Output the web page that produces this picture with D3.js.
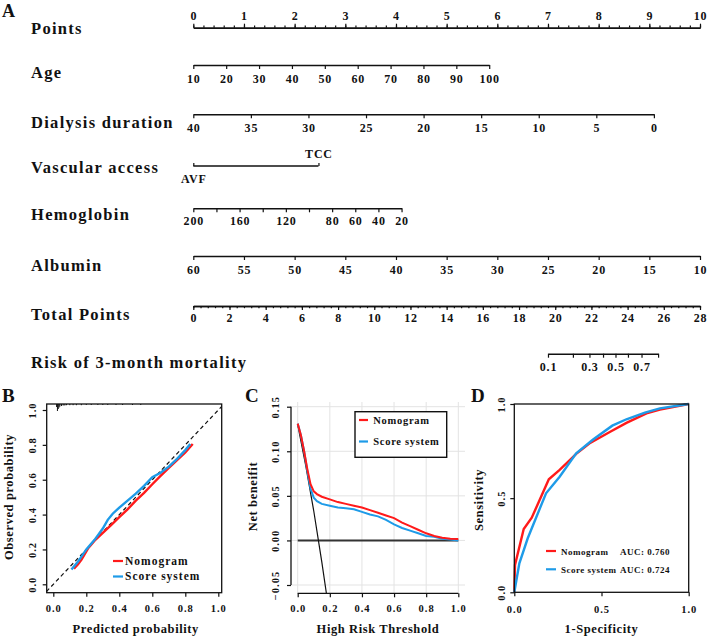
<!DOCTYPE html>
<html><head><meta charset="utf-8">
<script src="https://cdn.jsdelivr.net/npm/d3@7"></script>
<style>body{margin:0;background:#fff}svg{display:block}</style>
</head><body>
<script>
// ---------------- DATA ----------------
const rowNames = ["Points","Age","Dialysis duration","Vascular access","Hemoglobin","Albumin","Total Points","Risk of 3-month mortality"];
const pointsLabels = [0,1,2,3,4,5,6,7,8,9,10];
const ageValues = [10,20,30,40,50,60,70,80,90,100];
const agePoints = [0, 5.84];
const dialysisValues = [40,35,30,25,20,15,10,5,0];
const dialysisPoints = [0, 9.09];
const accessLevels = ["AVF","TCC"];
const accessPoints = [0, 2.47];
const hbTicks = [200,180,160,140,120,100,80,60,40,20];
const hbLabels = [200,160,120,80,60,40,20];
const hbPoints = [0, 4.11];
const albuminValues = [60,55,50,45,40,35,30,25,20,15,10];
const albuminPoints = [0, 10];
const totalLabels = [0,2,4,6,8,10,12,14,16,18,20,22,24,26,28];
const riskTicks = [0.1,0.2,0.3,0.4,0.5,0.6,0.7,0.8];
const riskLabels = [0.1,0.3,0.5,0.7];
const riskHalfPoints = 23.33, riskSlope = 0.589;

// Calibration (B)
const calNomoPred = [0.125,0.15,0.17,0.21,0.25,0.3,0.35,0.4,0.45,0.5,0.55,0.6,0.65,0.7,0.75,0.8,0.845];
const calNomoObs  = [0.09,0.115,0.14,0.205,0.25,0.295,0.34,0.385,0.43,0.48,0.525,0.574,0.622,0.668,0.712,0.757,0.805];
const calScorePred = [0.11,0.15,0.2,0.25,0.3,0.33,0.36,0.4,0.45,0.5,0.55,0.6,0.65,0.7,0.75,0.8,0.83];
const calScoreObs  = [0.085,0.13,0.2,0.255,0.32,0.37,0.405,0.44,0.48,0.52,0.565,0.615,0.64,0.675,0.72,0.77,0.805];
const rugPred  = [0.02,0.025,0.03,0.035,0.04,0.05,0.06,0.07,0.08,0.1,0.12,0.14,0.17,0.2,0.23,0.27,0.3,0.33,0.38,0.42,0.48,0.53];
const rugCount = [3,7,5,3.5,2.5,2,1.5,1.5,1.2,1.2,1.2,1.2,1.2,1,1,1,1,1,1,1,1,1];

// Decision curve (C)
const dcaThreshold = [0,0.02,0.04,0.06,0.08,0.1,0.12,0.15,0.2,0.25,0.3,0.35,0.4,0.45,0.5,0.55,0.6,0.65,0.7,0.75,0.8,0.85,0.9,0.95,1.0];
const dcaNomo  = [0.131,0.118,0.1,0.08,0.063,0.055,0.052,0.049,0.046,0.043,0.041,0.039,0.037,0.034,0.031,0.028,0.025,0.020,0.016,0.012,0.008,0.005,0.003,0.002,0.0015];
const dcaScore = [0.131,0.118,0.1,0.078,0.058,0.048,0.044,0.041,0.039,0.037,0.036,0.035,0.032,0.029,0.027,0.023,0.018,0.014,0.011,0.008,0.005,0.004,0.002,0.001,0.0];
const dcaAllThreshold = [0,0.05,0.1,0.15,0.18];
const dcaAll = [0.13,0.084,0.033,-0.024,-0.061];

// ROC (D)
const rocNomoFpr = [0,0.004,0.054,0.1,0.198,0.26,0.355,0.43,0.55,0.643,0.758,0.835,1];
const rocNomoTpr = [0,0.145,0.336,0.396,0.6,0.65,0.735,0.79,0.853,0.9,0.95,0.97,1];
const rocScoreFpr = [0,0.029,0.077,0.182,0.26,0.355,0.45,0.562,0.643,0.749,0.835,1];
const rocScoreTpr = [0,0.154,0.287,0.526,0.614,0.738,0.81,0.885,0.919,0.954,0.977,1];
const seriesNames = ["Nomogram","Score system"];
const aucValues = ["0.760","0.724"];

// ---------------- DRAW ----------------
const FONT = "'Liberation Serif','Times New Roman',serif";
const RED = "#ff1a1a", BLUE = "#1e9be8", INK = "#111";
const svg = d3.select("body").append("svg").attr("width",708).attr("height",636)
  .style("font-family",FONT);

function txt(g, x, y, s, size, opts={}) {
  const t = g.append("text").attr("x",x).attr("y",y).text(s)
    .attr("font-size",size).attr("font-weight","bold").attr("fill",INK)
    .attr("font-family",FONT);
  if (opts.anchor) t.attr("text-anchor",opts.anchor);
  if (opts.ls != null) t.style("letter-spacing",opts.ls+"px");
  if (opts.rotate) t.attr("transform",`rotate(-90,${x},${y})`);
  return t;
}

// panel letters
txt(svg,2,17,"A",18);
txt(svg,2,402,"B",19);
txt(svg,245,402,"C",19);
txt(svg,471,402,"D",19);

// ----- Nomogram -----
const ptsX = d3.scaleLinear([0,10],[193.3,700]);
const totX = d3.scaleLinear([0,28],[193.3,700]);
const rowLabelY = [33.5,78,127.5,172.5,220,270.5,319.5,368];
rowNames.forEach((n,i)=> txt(svg,31,rowLabelY[i],n,16.5,{ls:1.3}));

function styleAxis(g, labelY) {
  g.selectAll("path.domain").attr("stroke",INK).attr("stroke-width",1.4);
  g.selectAll(".tick line").attr("stroke",INK).attr("stroke-width",1.2);
  g.selectAll(".tick text").attr("y",labelY).attr("dy",0)
    .attr("font-family",FONT).attr("font-size",12).attr("font-weight","bold")
    .attr("fill",INK).style("letter-spacing","0.8px");
}
function nomoAxis(scale, y, o) {
  const g = svg.append("g").attr("transform",`translate(0,${y})`);
  const mk = o.up ? d3.axisTop : d3.axisBottom;
  if (o.minor) {
    g.append("g").call(mk(scale).tickValues(o.minor).tickSize(2.2).tickSizeOuter(0).tickFormat(""));
  }
  g.append("g").call(mk(scale).tickValues(o.ticks).tickSize(o.tick||4).tickSizeOuter(0).tickFormat(o.fmt));
  styleAxis(g, o.labelY);
  return g;
}
// Points
nomoAxis(ptsX, 27.7, {up:true, ticks:pointsLabels, minor:d3.range(0,10.001,0.2), fmt:d=>d, labelY:-7.7});
// Age
const ageX = d3.scaleLinear([ageValues[0],ageValues[ageValues.length-1]], agePoints.map(ptsX));
nomoAxis(ageX, 65, {ticks:ageValues, fmt:d=>d, labelY:18});
// Dialysis
const dialX = d3.scaleLinear([dialysisValues[0],dialysisValues[dialysisValues.length-1]], dialysisPoints.map(ptsX));
nomoAxis(dialX, 114.3, {ticks:dialysisValues, fmt:d=>d, labelY:17.5});
// Vascular access
const accX = d3.scaleOrdinal(accessLevels, accessPoints.map(ptsX));
{
  const g = nomoAxis(accX, 166, {up:true, ticks:accessLevels, fmt:d=>d, tick:3, labelY:-8});
  g.selectAll(".tick text").filter(d=>d==="AVF").attr("y",16.5);
  g.select("path.domain").attr("d",`M${accX("AVF")},0H${accX("TCC")}`);
}
// Hemoglobin
const hbX = d3.scaleLinear([hbTicks[0],hbTicks[hbTicks.length-1]], hbPoints.map(ptsX));
nomoAxis(hbX, 208.3, {ticks:hbTicks, fmt:d=>hbLabels.includes(d)?d:"", labelY:17});
// Albumin
const albX = d3.scaleLinear([albuminValues[0],albuminValues[albuminValues.length-1]], albuminPoints.map(ptsX));
nomoAxis(albX, 256, {ticks:albuminValues, fmt:d=>d, labelY:17.5});
// Total points
nomoAxis(totX, 306, {ticks:totalLabels, minor:d3.range(0,28.001,0.4), fmt:d=>d, labelY:16});
// Risk
const logit = p => Math.log(p/(1-p));
const riskTP = p => riskHalfPoints + logit(p)/riskSlope;
const riskX = d3.scaleLinear([logit(riskTicks[0]), logit(riskTicks[riskTicks.length-1])],
  [totX(riskTP(riskTicks[0])), totX(riskTP(riskTicks[riskTicks.length-1]))]);
nomoAxis(riskX, 353.7, {ticks:riskTicks.map(logit), tick:4,
  fmt:d=>{ const p = 1/(1+Math.exp(-d)); const r = Math.round(p*10)/10; return riskLabels.includes(r)? d3.format(".1f")(r):""; },
  labelY:17});

// ----- common axis styling for panels -----
function panelAxisStyle(g) {
  g.select("path.domain").remove();
  g.selectAll(".tick line").attr("stroke",INK).attr("stroke-width",1.2);
  g.selectAll(".tick text").attr("font-family",FONT).attr("font-size",10.5)
    .attr("font-weight","bold").attr("fill",INK).style("letter-spacing","1px");
}
function xAxisAt(scale, y, ticks, fmt, labelY) {
  const g = svg.append("g").attr("transform",`translate(0,${y})`)
    .call(d3.axisBottom(scale).tickValues(ticks).tickSize(4).tickFormat(fmt));
  panelAxisStyle(g);
  g.selectAll(".tick text").attr("y",labelY).attr("dy",0);
  return g;
}
function yAxisAt(scale, x, ticks, fmt, labelX) {
  const g = svg.append("g").attr("transform",`translate(${x},0)`)
    .call(d3.axisLeft(scale).tickValues(ticks).tickSize(4).tickFormat(fmt));
  panelAxisStyle(g);
  g.selectAll(".tick text").attr("x",0).attr("y",0).attr("dy",0)
    .attr("text-anchor","middle").attr("transform",`translate(${labelX},0) rotate(-90)`);
  return g;
}
function legendItem(g, x1, x2, y, color, label, size, tx, ls) {
  g.append("line").attr("x1",x1).attr("x2",x2).attr("y1",y).attr("y2",y)
    .attr("stroke",color).attr("stroke-width",2.2);
  return txt(g, tx, y+3.8, label, size, {ls});
}

// ----- B: calibration -----
{
  const bx = d3.scaleLinear([0,1],[53.3,218.3]);
  const by = d3.scaleLinear([0,1],[584.3,410]);
  const box = {x:46.7, y:404, w:175, h:188.7};
  svg.append("clipPath").attr("id","clipB").append("rect")
    .attr("x",box.x).attr("y",box.y).attr("width",box.w).attr("height",box.h);
  const g = svg.append("g").attr("clip-path","url(#clipB)");
  g.append("line").attr("x1",bx(-0.1)).attr("y1",by(-0.1)).attr("x2",bx(1.1)).attr("y2",by(1.1))
    .attr("stroke",INK).attr("stroke-width",1.2).attr("stroke-dasharray","4,3");
  const rugH = d3.scaleLinear([0,8],[0,8]);
  g.selectAll("line.rug").data(rugPred).join("line").attr("class","rug")
    .attr("x1",d=>bx(d)).attr("x2",d=>bx(d)).attr("y1",box.y)
    .attr("y2",(d,i)=>box.y+rugH(rugCount[i])).attr("stroke",INK).attr("stroke-width",1);
  const line = d3.line().x(d=>bx(d[0])).y(d=>by(d[1]));
  g.append("path").attr("d",line(d3.zip(calNomoPred,calNomoObs))).attr("fill","none")
    .attr("stroke",RED).attr("stroke-width",2.4);
  g.append("path").attr("d",line(d3.zip(calScorePred,calScoreObs))).attr("fill","none")
    .attr("stroke",BLUE).attr("stroke-width",2.4);
  svg.append("rect").attr("x",box.x).attr("y",box.y).attr("width",box.w).attr("height",box.h)
    .attr("fill","none").attr("stroke",INK).attr("stroke-width",1.3);
  const t = [0,0.2,0.4,0.6,0.8,1.0];
  xAxisAt(bx, box.y+box.h, t, d3.format(".1f"), 19.5);
  yAxisAt(by, box.x, t, d3.format(".1f"), -10.5);
  txt(svg,(bx(0)+bx(1))/2,632.5,"Predicted probability",12.5,{anchor:"middle",ls:0.6});
  txt(svg,12.5,497,"Observed probability",12.5,{anchor:"middle",ls:0.6,rotate:true});
  legendItem(svg,113,123,561,RED,seriesNames[0],11.5,125,1);
  legendItem(svg,113,123,576.5,BLUE,seriesNames[1],11.5,125,1);
}

// ----- C: decision curve -----
{
  const cx = d3.scaleLinear([0,1],[297.7,458.3]);
  const cy = d3.scaleLinear([-0.05,0.15],[585,406.7]);
  const xt = [0,0.2,0.4,0.6,0.8,1.0], yt = [-0.05,0,0.05,0.10,0.15];
  const region = {x0:291, x1:465, y0:402, y1:593.3};
  const grid = svg.append("g");
  grid.selectAll("line.v").data(xt).join("line").attr("x1",d=>cx(d)).attr("x2",d=>cx(d))
    .attr("y1",region.y0).attr("y2",region.y1).attr("stroke","#e3e3e3").attr("stroke-width",1);
  grid.selectAll("line.h").data(yt).join("line").attr("y1",d=>cy(d)).attr("y2",d=>cy(d))
    .attr("x1",region.x0).attr("x2",region.x1).attr("stroke","#e3e3e3").attr("stroke-width",1);
  svg.append("clipPath").attr("id","clipC").append("rect")
    .attr("x",region.x0).attr("y",region.y0).attr("width",region.x1-region.x0).attr("height",region.y1-region.y0);
  const g = svg.append("g").attr("clip-path","url(#clipC)");
  g.append("line").attr("x1",cx(0)).attr("x2",cx(1)).attr("y1",cy(0)).attr("y2",cy(0))
    .attr("stroke","#333").attr("stroke-width",2);
  const line = d3.line().x(d=>cx(d[0])).y(d=>cy(d[1]));
  g.append("path").attr("d",line(d3.zip(dcaAllThreshold,dcaAll))).attr("fill","none")
    .attr("stroke",INK).attr("stroke-width",1.2);
  g.append("path").attr("d",line(d3.zip(dcaThreshold,dcaScore))).attr("fill","none")
    .attr("stroke",BLUE).attr("stroke-width",2);
  g.append("path").attr("d",line(d3.zip(dcaThreshold,dcaNomo))).attr("fill","none")
    .attr("stroke",RED).attr("stroke-width",2);
  // axis lines (span first to last tick)
  svg.append("line").attr("x1",cx(0)).attr("x2",cx(1)).attr("y1",region.y1).attr("y2",region.y1)
    .attr("stroke",INK).attr("stroke-width",1.3);
  svg.append("line").attr("x1",region.x0).attr("x2",region.x0).attr("y1",cy(0.15)).attr("y2",cy(-0.05))
    .attr("stroke",INK).attr("stroke-width",1.3);
  xAxisAt(cx, region.y1, xt, d3.format(".1f"), 19);
  yAxisAt(cy, region.x0, yt, d3.format(".2f"), -12);
  txt(svg,(cx(0)+cx(1))/2,633,"High Risk Threshold",12.5,{anchor:"middle",ls:0.6});
  txt(svg,257,496.5,"Net beneifit",12.5,{anchor:"middle",ls:0.6,rotate:true});
  const lg = svg.append("g");
  lg.append("rect").attr("x",355).attr("y",411.7).attr("width",91.7).attr("height",45.6)
    .attr("fill","#fff").attr("stroke",INK).attr("stroke-width",1.4);
  legendItem(lg,359,368,420,RED,seriesNames[0],10.5,373.3,0.7);
  legendItem(lg,359,368,441.5,BLUE,seriesNames[1],10.5,373.3,0.7);
}

// ----- D: ROC -----
{
  const dx = d3.scaleLinear([0,1],[514.3,688.7]);
  const dy = d3.scaleLinear([0,1],[592.3,404]);
  const line = d3.line().x(d=>dx(d[0])).y(d=>dy(d[1]));
  svg.append("path").attr("d",line(d3.zip(rocNomoFpr,rocNomoTpr))).attr("fill","none")
    .attr("stroke",RED).attr("stroke-width",2.4);
  svg.append("path").attr("d",line(d3.zip(rocScoreFpr,rocScoreTpr))).attr("fill","none")
    .attr("stroke",BLUE).attr("stroke-width",2.4);
  svg.append("rect").attr("x",dx(0)).attr("y",dy(1)).attr("width",dx(1)-dx(0)).attr("height",dy(0)-dy(1))
    .attr("fill","none").attr("stroke",INK).attr("stroke-width",1.3);
  const t = [0,0.5,1];
  xAxisAt(dx, dy(0), t, d3.format(".1f"), 20.3);
  yAxisAt(dy, dx(0), t, d3.format(".1f"), -9.5);
  txt(svg,(dx(0)+dx(1))/2,633,"1-Specificity",12.5,{anchor:"middle",ls:0.6});
  txt(svg,483,500,"Sensitivity",12.5,{anchor:"middle",ls:0.6,rotate:true});
  legendItem(svg,546,556,551,RED,seriesNames[0],9,561,0.5);
  legendItem(svg,546,556,569.3,BLUE,seriesNames[1],9,561,0.5);
  txt(svg,620,554.8,"AUC: "+aucValues[0],9,{ls:0.5});
  txt(svg,620,573.1,"AUC: "+aucValues[1],9,{ls:0.5});
}
</script>
</body></html>
